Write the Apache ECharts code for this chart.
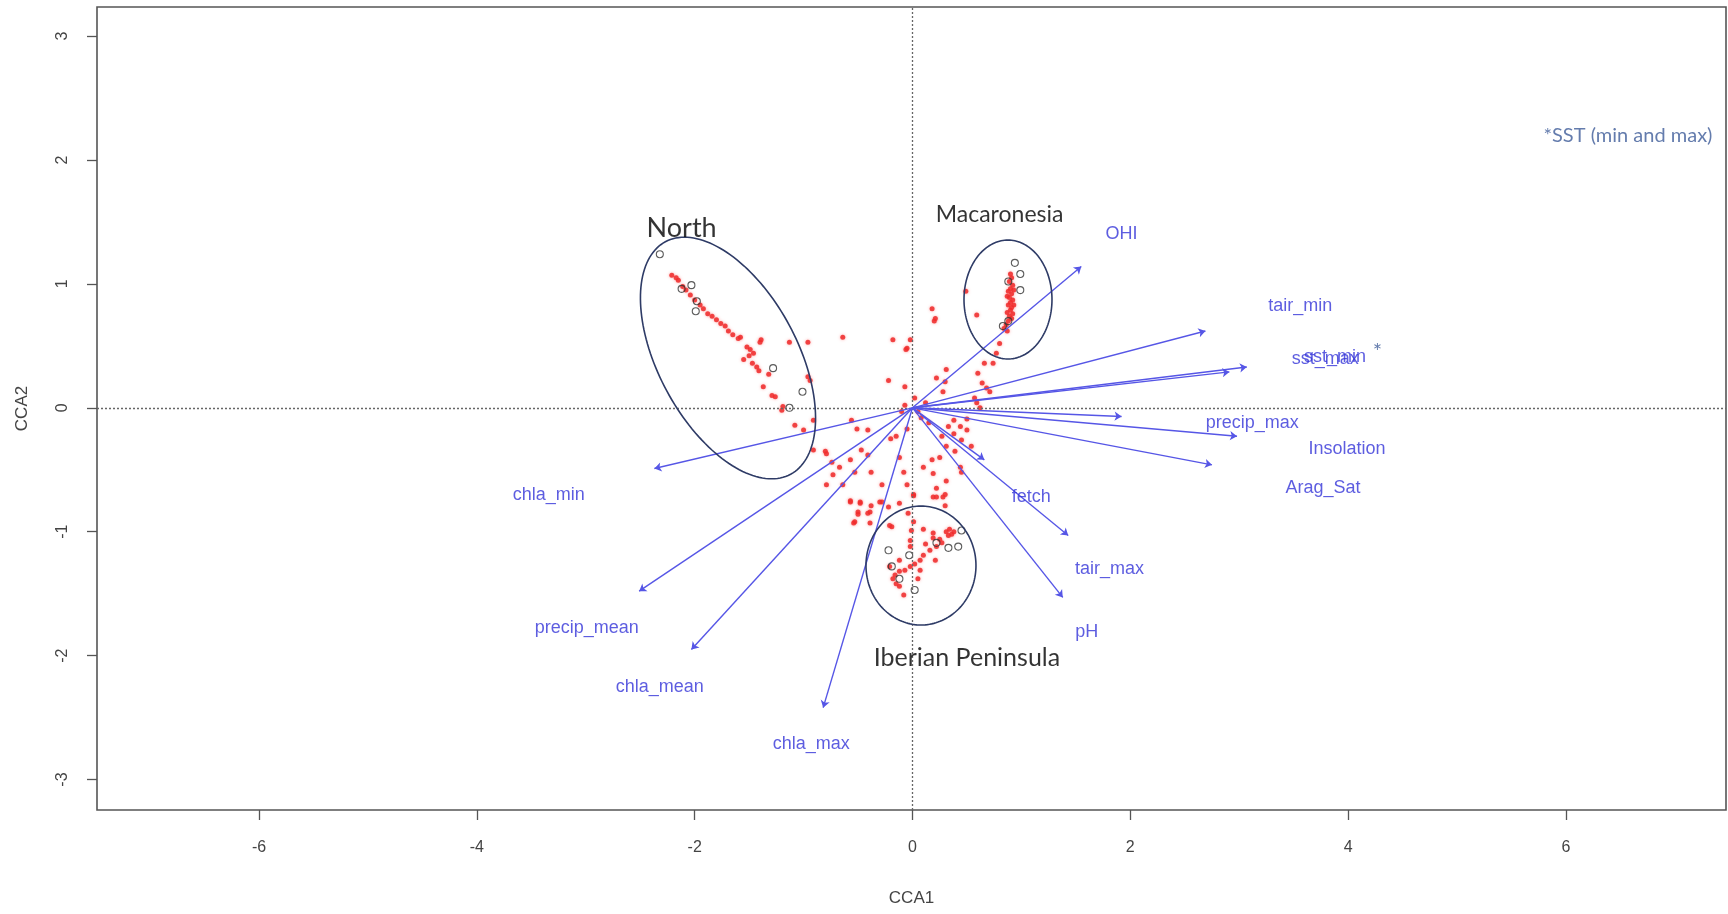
<!DOCTYPE html>
<html>
<head>
<meta charset="utf-8">
<title>CCA biplot</title>
<script src="https://cdn.jsdelivr.net/npm/echarts@6/dist/echarts.min.js"></script>
<style>
  html, body { margin: 0; padding: 0; background: #ffffff; }
  #chart { width: 1728px; height: 914px; }
</style>
</head>
<body>
<div id="chart"></div>
<script>
// Axis tick values
const xTicks = [-6, -4, -2, 0, 2, 4, 6];
const yTicks = [-3, -2, -1, 0, 1, 2, 3];

// Site scores (CCA1, CCA2)
const northSites = [
  [-2.21,1.07],[-2.17,1.05],[-2.15,1.03],[-2.11,0.98],[-2.08,0.95],[-2.04,0.91],[-2.00,0.87],
  [-1.95,0.83],[-1.92,0.80],[-1.88,0.76],[-1.84,0.74],[-1.80,0.71],[-1.76,0.68],[-1.72,0.66],
  [-1.69,0.62],[-1.65,0.59],[-1.60,0.56],[-1.58,0.57],[-1.52,0.49],[-1.49,0.47],[-1.46,0.44],
  [-1.55,0.39],[-1.43,0.33],[-1.40,0.53],[-1.39,0.55],[-1.13,0.53],[-0.96,0.53],[-1.50,0.42],
  [-1.47,0.36],[-1.41,0.30],[-1.37,0.17],[-1.32,0.27],[-1.29,0.10],[-1.26,0.09],[-1.20,-0.02],
  [-1.19,0.01],[-0.96,0.25],[-0.94,0.22],[-1.08,-0.14],[-1.00,-0.18],[-0.91,-0.10],[-0.91,-0.34],
  [-0.79,-0.37]
];
const macaronesiaSites = [
  [0.90,1.08],[0.91,1.05],[0.89,1.02],[0.92,0.99],[0.90,0.96],[0.88,0.94],[0.91,0.92],[0.89,0.89],
  [0.92,0.87],[0.90,0.85],[0.88,0.83],[0.91,0.81],[0.90,0.79],[0.92,0.76],[0.89,0.74],[0.91,0.72],
  [0.88,0.70],[0.86,0.67],[0.84,0.64],[0.87,0.62],[0.93,0.95],[0.87,0.90],[0.93,0.83],[0.87,0.77],
  [0.49,0.94],[0.59,0.75]
];
const iberiaSites = [
  [-0.57,-0.75],[-0.48,-0.77],[-0.38,-0.79],[-0.28,-0.76],[-0.50,-0.86],[-0.41,-0.85],[-0.54,-0.93],
  [-0.21,-0.95],[-0.12,-0.77],[0.01,-0.71],[0.22,-0.72],[0.30,-0.70],[0.30,-0.79],[-0.04,-0.85],
  [0.01,-0.92],[-0.01,-0.99],[0.10,-0.98],[0.19,-1.01],[0.34,-0.98],[0.31,-1.00],[0.33,-1.03],
  [0.36,-1.02],[0.38,-1.00],[0.27,-1.09],[0.22,-1.12],[0.16,-1.15],[0.10,-1.19],[0.07,-1.23],
  [0.02,-1.26],[-0.02,-1.28],[-0.07,-1.31],[-0.12,-1.32],[-0.16,-1.35],[-0.18,-1.38],[-0.15,-1.42],
  [-0.12,-1.44],[-0.08,-1.51],[0.07,-1.31],[0.05,-1.38],[-0.19,-0.96],[-0.02,-1.07],[-0.02,-1.12],
  [-0.21,-1.28],[-0.12,-1.23],[0.19,-1.05],[0.21,-1.23],[0.12,-1.10],[0.25,-1.06]
];
const otherSites = [
  [-0.64,0.57],[-0.18,0.55],[-0.02,0.55],[-0.06,0.47],[0.20,0.70],[0.18,0.80],[0.21,0.72],
  [-0.22,0.22],[-0.07,0.17],[-0.05,0.48],[0.31,0.31],[0.22,0.24],[0.30,0.21],[0.28,0.13],
  [0.60,0.28],[0.66,0.36],[0.74,0.36],[0.77,0.44],[0.80,0.52],[0.64,0.20],[0.68,0.16],[0.71,0.13],
  [0.57,0.08],[0.59,0.04],[0.62,0.00],[0.50,-0.09],[0.38,-0.10],[0.33,-0.15],[0.44,-0.15],
  [0.38,-0.21],[0.50,-0.18],[0.27,-0.23],[0.45,-0.26],[0.31,-0.31],[0.39,-0.35],[0.54,-0.31],
  [0.25,-0.40],[0.44,-0.48],[0.45,-0.52],[0.10,-0.48],[0.18,-0.42],[0.19,-0.53],[0.31,-0.59],
  [0.28,-0.72],[0.22,-0.65],[0.19,-0.72],[-0.08,-0.52],[-0.12,-0.40],[-0.05,-0.17],[-0.15,-0.23],
  [-0.20,-0.25],[-0.38,-0.52],[-0.41,-0.38],[-0.47,-0.34],[-0.51,-0.17],[-0.56,-0.10],[-0.41,-0.18],
  [-0.80,-0.35],[-0.74,-0.44],[-0.67,-0.48],[-0.57,-0.42],[-0.73,-0.54],[-0.53,-0.52],[-0.79,-0.62],
  [-0.64,-0.62],[-0.57,-0.76],[-0.48,-0.76],[-0.50,-0.84],[-0.39,-0.84],[-0.28,-0.62],[-0.30,-0.76],
  [-0.22,-0.80],[-0.53,-0.92],[-0.39,-0.93],[0.01,-0.70],[-0.05,-0.62],[0.05,-0.03],[0.12,0.04],
  [0.08,-0.08],[-0.10,-0.03],[0.15,-0.12],[0.02,0.08],[-0.07,0.02]
];
// Sites highlighted with open circles
const markedSites = [
  [-2.32,1.24],[-2.12,0.96],[-2.03,0.99],[-1.98,0.86],[-1.99,0.78],[-1.28,0.32],[-1.01,0.13],[-1.13,0.00],
  [0.94,1.17],[0.99,1.08],[0.99,0.95],[0.88,1.02],[0.83,0.66],[0.88,0.70],
  [-0.22,-1.15],[-0.03,-1.19],[-0.19,-1.28],[0.02,-1.47],[0.22,-1.09],[0.33,-1.13],[0.42,-1.12],
  [0.45,-0.99],[-0.12,-1.38]
];

// Environmental variables: arrow tips and label anchors
const envNames  = ['chla_min','precip_mean','chla_mean','chla_max','pH','tair_max','fetch','Insolation','precip_max','Arag_Sat','sst_max','sst_min','tair_min','OHI'];
const envTipX   = [-2.37,-2.51,-2.03,-0.82, 1.38, 1.43, 0.66, 1.92, 2.98, 2.75, 3.07, 2.91, 2.69, 1.55];
const envTipY   = [-0.49,-1.48,-1.95,-2.42,-1.53,-1.03,-0.42,-0.07,-0.23,-0.46, 0.33, 0.29, 0.62, 1.14];
const envLabelX = [-3.34,-2.99,-2.32,-0.93, 1.60, 1.81, 1.09, 3.99, 3.12, 3.77, 3.79, 3.88, 3.56, 1.92];
const envLabelY = [-0.70,-1.78,-2.25,-2.71,-1.81,-1.30,-0.72,-0.33,-0.12,-0.65, 0.39, 0.41, 0.82, 1.40];

// Region groupings: ellipse centre and two conjugate semi-axes
const regionNames    = ['North','Macaronesia','Iberian Peninsula'];
const regionCenterX  = [-1.694, 0.877, 0.078];
const regionCenterY  = [ 0.402, 0.874,-1.273];
const regionAxisA    = [[0.575,-0.938],[0.404,0],[0.505,0]];
const regionAxisB    = [[-0.562,-0.266],[0,0.480],[0,0.480]];
const regionLabelX   = [-2.12, 0.80, 0.50];
const regionLabelY   = [ 1.45, 1.56,-2.02];

// Notes
const noteTexts = ['*SST (min and max)', '*'];
const noteX = [6.57, 4.27];
const noteY = [2.20, 0.45];

const regionFontSize = [27, 23, 25];
const noteFontSize = [20, 22];

const chart = echarts.init(document.getElementById('chart'), null, { renderer: 'canvas' });

const axisCommon = {
  type: 'value',
  splitLine: { show: false },
  axisLine: { show: false, onZero: false },
  axisTick: { show: true, inside: false, length: 10, lineStyle: { color: '#555', width: 1.3 } },
  axisLabel: { color: '#444', fontFamily: 'Liberation Sans, Arial, sans-serif', fontSize: 16 },
  nameTextStyle: { color: '#444', fontFamily: 'Liberation Sans, Arial, sans-serif', fontSize: 17 }
};

const option = {
  backgroundColor: '#ffffff',
  animation: false,
  grid: {
    left: 97, right: 2, top: 7, bottom: 104,
    show: true, borderColor: '#555', borderWidth: 1.6, backgroundColor: 'transparent'
  },
  xAxis: Object.assign({}, axisCommon, {
    min: -7.488, max: 7.470,
    name: 'CCA1', nameLocation: 'middle', nameGap: 80,
    axisTick: Object.assign({}, axisCommon.axisTick, { customValues: xTicks }),
    axisLabel: Object.assign({}, axisCommon.axisLabel, { customValues: xTicks, margin: 30 })
  }),
  yAxis: Object.assign({}, axisCommon, {
    min: -3.246, max: 3.235,
    name: 'CCA2', nameLocation: 'middle', nameGap: 66,
    axisTick: Object.assign({}, axisCommon.axisTick, { customValues: yTicks }),
    axisLabel: Object.assign({}, axisCommon.axisLabel, { customValues: yTicks, rotate: 90, margin: 26 })
  }),
  series: [
    {
      // site scores
      type: 'scatter',
      symbol: 'circle',
      symbolSize: 5,
      itemStyle: { color: '#ee2a2a', opacity: 0.85, shadowBlur: 3, shadowColor: 'rgba(255,80,80,0.6)' },
      data: northSites.concat(macaronesiaSites, iberiaSites, otherSites),
      z: 3,
      markLine: {
        silent: true,
        symbol: 'none',
        label: { show: false },
        lineStyle: { color: '#666', width: 1.3, type: [2, 2] },
        data: [{ xAxis: 0 }, { yAxis: 0 }]
      }
    },
    {
      type: 'scatter',
      symbol: 'circle',
      symbolSize: 7,
      itemStyle: { color: 'transparent', borderColor: '#333', borderWidth: 1.1 },
      data: markedSites,
      z: 4
    },
    {
      // environmental arrows
      type: 'lines',
      coordinateSystem: 'cartesian2d',
      symbol: ['none', 'arrow'],
      symbolSize: [0, 7],
      lineStyle: { color: '#5656e6', width: 1.4, opacity: 1, curveness: 0 },
      data: envNames.map((n, i) => ({ name: n, coords: [[0, 0], [envTipX[i], envTipY[i]]] })),
      z: 5
    },
    {
      // variable names
      type: 'scatter',
      symbolSize: 1,
      itemStyle: { color: 'rgba(0,0,0,0)' },
      label: {
        show: true, position: 'inside', formatter: p => p.name,
        color: '#3535d8', fontFamily: 'Liberation Sans, Arial, sans-serif', fontSize: 18
      },
      data: envNames.map((n, i) => ({ name: n, value: [envLabelX[i], envLabelY[i]] })),
      z: 6
    },
    {
      // region ellipses
      type: 'custom',
      renderItem: function (params, api) {
        const i = params.dataIndex;
        const pts = [];
        for (let k = 0; k <= 160; k++) {
          const t = k / 160 * Math.PI * 2;
          const c = Math.cos(t), s = Math.sin(t);
          pts.push(api.coord([
            regionCenterX[i] + regionAxisA[i][0] * c + regionAxisB[i][0] * s,
            regionCenterY[i] + regionAxisA[i][1] * c + regionAxisB[i][1] * s
          ]));
        }
        return {
          type: 'polyline',
          shape: { points: pts },
          style: { fill: 'none', stroke: '#2e3b66', lineWidth: 1.6 }
        };
      },
      data: regionNames.map((n, i) => [regionCenterX[i], regionCenterY[i]]),
      z: 7
    },
    {
      // region names
      type: 'scatter',
      symbolSize: 1,
      itemStyle: { color: 'rgba(0,0,0,0)' },
      data: regionNames.map((n, i) => ({
        name: n, value: [regionLabelX[i], regionLabelY[i]],
        label: { fontSize: regionFontSize[i] }
      })),
      label: {
        show: true, position: 'inside', formatter: p => p.name,
        color: '#000000', fontFamily: 'Lato, "Open Sans", sans-serif'
      },
      z: 8
    },
    {
      // notes
      type: 'scatter',
      symbolSize: 1,
      itemStyle: { color: 'rgba(0,0,0,0)' },
      data: noteTexts.map((n, i) => ({
        name: n, value: [noteX[i], noteY[i]],
        label: { fontSize: noteFontSize[i] }
      })),
      label: {
        show: true, position: 'inside', formatter: p => p.name,
        color: '#3d5b98', fontFamily: 'Lato, "Open Sans", sans-serif'
      },
      z: 8
    }
  ]
};

chart.setOption(option);
</script>
</body>
</html>
